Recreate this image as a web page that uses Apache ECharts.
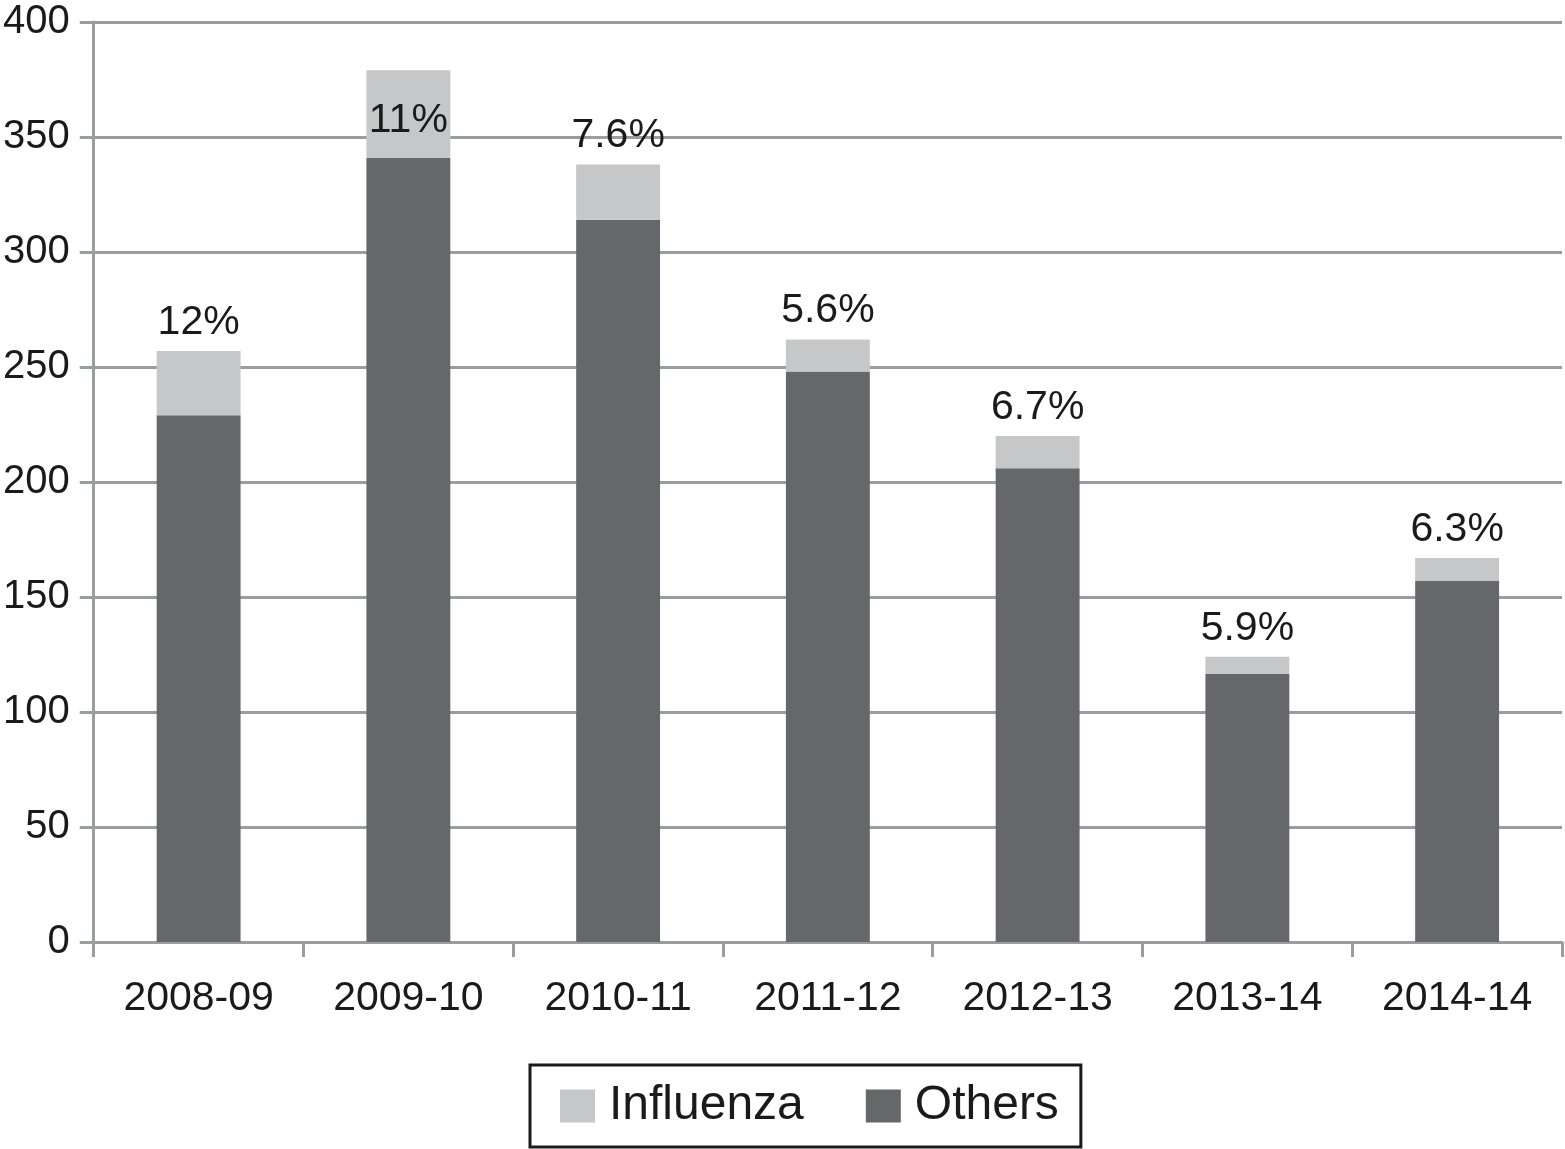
<!DOCTYPE html>
<html>
<head>
<meta charset="utf-8">
<script src="https://cdn.jsdelivr.net/npm/echarts@6/dist/echarts.min.js"></script>
<style>
html,body{margin:0;padding:0;background:#fff;}
#chart{width:1565px;height:1149px;}
</style>
</head>
<body>
<div id="chart"></div>
<script>
const categories = ['2008-09','2009-10','2010-11','2011-12','2012-13','2013-14','2014-14'];
const others = [229, 341, 314, 248, 206, 116.5, 157];
const influenza = [28, 38, 24, 14, 14, 7.5, 10];
const pctLabels = ['12%','11%','7.6%','5.6%','6.7%','5.9%','6.3%'];
const yTicks = [0, 50, 100, 150, 200, 250, 300, 350, 400];

const FONT = '"Liberation Sans", Arial, sans-serif';
const AXIS_GRAY = '#9b9c9e';
const insideIdx = 1;

const chart = echarts.init(document.getElementById('chart'));
chart.setOption({
  backgroundColor: '#fff',
  animation: false,
  textStyle: { fontFamily: FONT },
  grid: { left: 92, right: 3, top: 22, bottom: 207, containLabel: false },
  legend: {
    data: ['Influenza', 'Others'],
    left: 530, top: 1065,
    padding: [17, 22, 17, 30],
    borderColor: '#1a1a1a', borderWidth: 3,
    itemWidth: 35, itemHeight: 33, itemGap: 62,
    icon: 'rect',
    textStyle: { fontSize: 48, color: '#1a1a1a', fontFamily: FONT, padding: [0, 0, 0, 9] }
  },
  xAxis: {
    type: 'category',
    data: categories,
    axisLine: { lineStyle: { color: AXIS_GRAY, width: 3 } },
    axisTick: { show: true, length: 15, lineStyle: { color: AXIS_GRAY, width: 3 } },
    axisLabel: { fontSize: 41, color: '#1a1a1a', margin: 36, fontFamily: FONT },
    splitLine: { show: false }
  },
  yAxis: {
    type: 'value',
    min: yTicks[0], max: yTicks[yTicks.length - 1], interval: yTicks[1] - yTicks[0],
    axisLine: { show: true, lineStyle: { color: AXIS_GRAY, width: 3 } },
    axisTick: { show: true, length: 14, lineStyle: { color: AXIS_GRAY, width: 3 } },
    axisLabel: { fontSize: 40, color: '#1a1a1a', margin: 24, fontFamily: FONT },
    splitLine: { lineStyle: { color: AXIS_GRAY, width: 3 } }
  },
  series: [
    {
      name: 'Others', type: 'bar', stack: 'total', barWidth: '40%',
      itemStyle: { color: '#66676b' },
      data: others
    },
    {
      name: 'Influenza', type: 'bar', stack: 'total', barWidth: '40%',
      itemStyle: { color: '#c6c7c9' },
      data: influenza.map((v, i) => ({
        value: v,
        label: i === insideIdx ? { position: 'insideTop', distance: 30 } : undefined
      })),
      label: {
        show: true, position: 'top', distance: 8,
        fontSize: 41, color: '#1a1a1a', fontFamily: FONT,
        formatter: p => pctLabels[p.dataIndex]
      }
    }
  ]
});
</script>
</body>
</html>
